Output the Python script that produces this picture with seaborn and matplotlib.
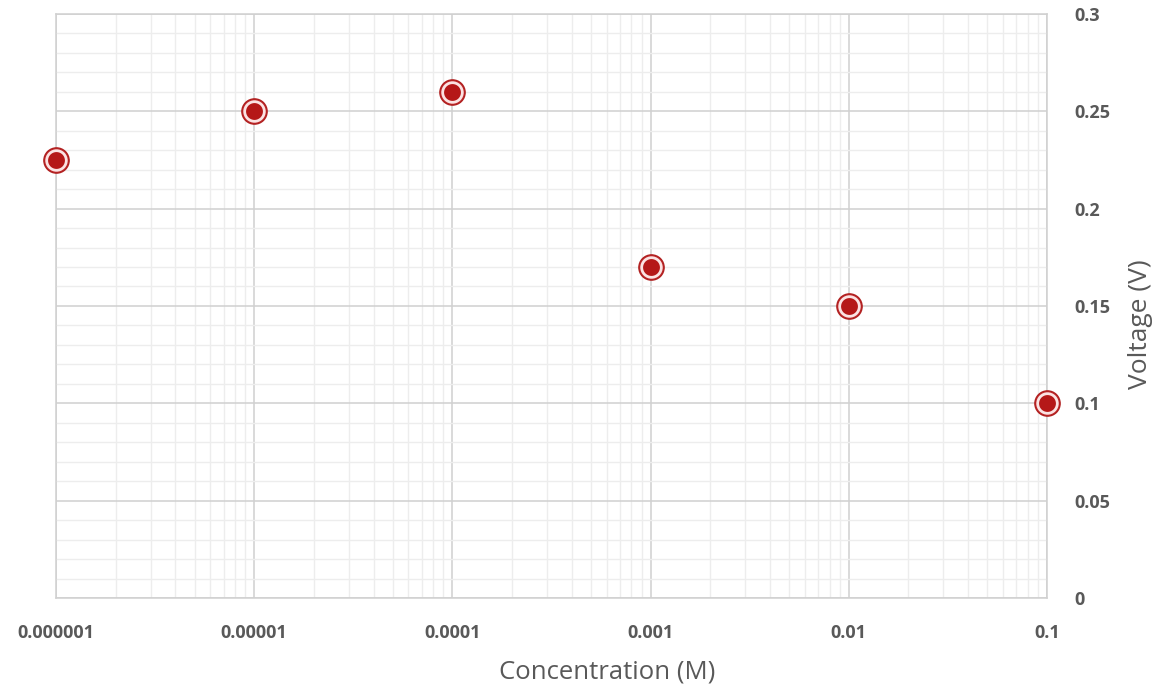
import numpy as np
import pandas as pd
import matplotlib
matplotlib.use('Agg')
import matplotlib.pyplot as plt
import matplotlib.ticker as mticker
import seaborn as sns

concentration = [0.000001, 0.00001, 0.0001, 0.001, 0.01, 0.1]
voltage = [0.225, 0.25, 0.26, 0.17, 0.15, 0.10]
x_labels = ['0.000001', '0.00001', '0.0001', '0.001', '0.01', '0.1']
y_ticks = [0, 0.05, 0.1, 0.15, 0.2, 0.25, 0.3]
y_labels = ['0', '0.05', '0.1', '0.15', '0.2', '0.25', '0.3']

data = pd.DataFrame({'conc': concentration, 'volt': voltage})

sns.set_style('white')
plt.rcParams['font.family'] = ['Open Sans', 'DejaVu Sans']

fig = plt.figure(figsize=(11.6, 6.93), dpi=100)
ax = fig.add_axes([0.0483, 0.137, 0.8543, 0.843])
ax.set_xscale('log')

# marker: red disc, white ring, red outer ring
sns.scatterplot(data=data, x='conc', y='volt', ax=ax, s=330, color='#c0282a',
                edgecolor='#b02020', linewidth=1, zorder=3, legend=False, clip_on=False)
sns.scatterplot(data=data, x='conc', y='volt', ax=ax, s=200, color='#b51818',
                edgecolor='#fbe3e3', linewidth=2.0, zorder=4, legend=False, clip_on=False)

ax.set_xlim(1e-6, 0.1)
ax.set_ylim(0, 0.3)
ax.set_xticks(concentration)
ax.set_xticklabels(x_labels)
ax.xaxis.set_minor_locator(mticker.LogLocator(base=10, subs=np.arange(2, 10)))
ax.xaxis.set_minor_formatter(mticker.NullFormatter())
ax.set_yticks(y_ticks)
ax.set_yticklabels(y_labels)
ax.yaxis.set_minor_locator(mticker.MultipleLocator(0.01))

ax.yaxis.tick_right()
ax.yaxis.set_label_position('right')

ax.grid(which='major', color='#d0d0d0', linewidth=1.1)
ax.grid(which='minor', color='#ededed', linewidth=1.0)
ax.set_axisbelow(True)

ax.tick_params(which='both', length=0)
ax.tick_params(axis='x', pad=19)
ax.tick_params(axis='y', pad=20)
for lab in ax.get_xticklabels() + ax.get_yticklabels():
    lab.set_fontweight('bold')
    lab.set_fontsize(13)
    lab.set_color('#595959')

for s in ax.spines.values():
    s.set_color('#d0d0d0')
    s.set_linewidth(1.1)

ax.set_xlabel('Concentration (M)', fontsize=18.5, color='#595959')
ax.set_ylabel('Voltage (V)', fontsize=19, color='#595959', rotation=90)
ax.xaxis.set_label_coords(0.556, -0.105)
ax.yaxis.set_label_coords(1.082, 0.469)

fig.savefig('out.png', dpi=100)
